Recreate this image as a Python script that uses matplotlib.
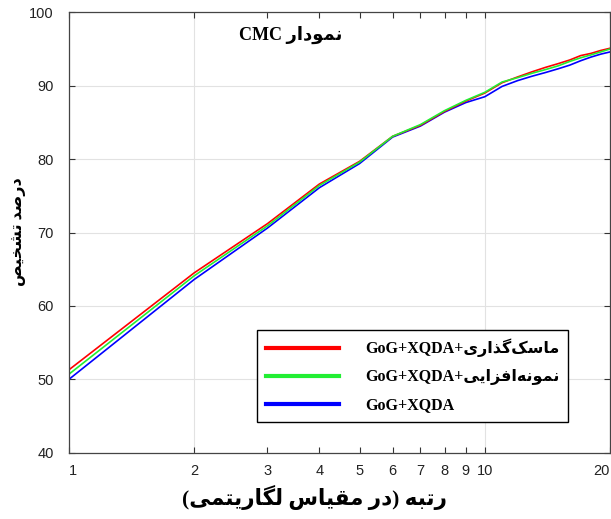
import matplotlib
matplotlib.use('Agg')
import matplotlib.pyplot as plt
from matplotlib.lines import Line2D

# CMC curves (rank 1..20, recognition %)
ranks = list(range(1, 21))
masking = [51.3, 64.5, 71.2, 76.6, 79.7, 83.1, 84.6, 86.5, 87.9, 89.0,
           90.4, 91.2, 91.9, 92.5, 93.0, 93.5, 94.1, 94.4, 94.8, 95.1]
augment = [50.7, 64.1, 70.9, 76.4, 79.6, 83.1, 84.7, 86.6, 88.0, 89.1,
           90.5, 91.1, 91.7, 92.2, 92.7, 93.3, 93.8, 94.2, 94.6, 95.0]
baseline = [50.0, 63.6, 70.6, 76.1, 79.4, 83.0, 84.5, 86.4, 87.7, 88.5,
            89.9, 90.7, 91.3, 91.8, 92.3, 92.8, 93.4, 93.9, 94.3, 94.6]

xticks_major = [1, 2, 10, 20]
xticks_minor = [3, 4, 5, 6, 7, 8, 9]
yticks = [40, 50, 60, 70, 80, 90, 100]

# matplotlib does no arabic shaping / bidi, so do it by hand
# letter: (isolated, final, initial, medial); None = joins only to the right
FORMS = {
    'ا': ('\uFE8D', '\uFE8E', None, None),
    'ب': ('\uFE8F', '\uFE90', '\uFE91', '\uFE92'),
    'ت': ('\uFE95', '\uFE96', '\uFE97', '\uFE98'),
    'خ': ('\uFEA5', '\uFEA6', '\uFEA7', '\uFEA8'),
    'د': ('\uFEA9', '\uFEAA', None, None),
    'ذ': ('\uFEAB', '\uFEAC', None, None),
    'ر': ('\uFEAD', '\uFEAE', None, None),
    'ز': ('\uFEAF', '\uFEB0', None, None),
    'س': ('\uFEB1', '\uFEB2', '\uFEB3', '\uFEB4'),
    'ش': ('\uFEB5', '\uFEB6', '\uFEB7', '\uFEB8'),
    'ص': ('\uFEB9', '\uFEBA', '\uFEBB', '\uFEBC'),
    'ف': ('\uFED1', '\uFED2', '\uFED3', '\uFED4'),
    'ق': ('\uFED5', '\uFED6', '\uFED7', '\uFED8'),
    'ل': ('\uFEDD', '\uFEDE', '\uFEDF', '\uFEE0'),
    'م': ('\uFEE1', '\uFEE2', '\uFEE3', '\uFEE4'),
    'ن': ('\uFEE5', '\uFEE6', '\uFEE7', '\uFEE8'),
    'ه': ('\uFEE9', '\uFEEA', '\uFEEB', '\uFEEC'),
    'و': ('\uFEED', '\uFEEE', None, None),
    'ک': ('\uFB8E', '\uFB8F', '\uFB90', '\uFB91'),
    'گ': ('\uFB92', '\uFB93', '\uFB94', '\uFB95'),
    'ی': ('\uFBFC', '\uFBFD', '\uFBFE', '\uFBFF'),
}


def fa(text):
    out = []
    for i, ch in enumerate(text):
        if ch not in FORMS:
            if ch != '\u200c':
                out.append(ch)
            continue
        prev = text[i - 1] if i > 0 else ''
        nxt = text[i + 1] if i + 1 < len(text) else ''
        jp = prev in FORMS and FORMS[prev][2] is not None
        jn = FORMS[ch][2] is not None and nxt in FORMS
        iso, fin, ini, med = FORMS[ch]
        if jp and jn:
            out.append(med)
        elif jp:
            out.append(fin)
        elif jn:
            out.append(ini)
        else:
            out.append(iso)
    vis = ''.join(out)[::-1]
    return vis.translate(str.maketrans('()', ')('))


title = 'CMC ' + fa('نمودار')
labels = ['GoG+XQDA+' + fa('ماسک\u200cگذاری'),
          'GoG+XQDA+' + fa('نمونه\u200cافزایی'),
          'GoG+XQDA']
xlabel = fa('رتبه (در مقیاس لگاریتمی)')
ylabel = fa('درصد تشخیص')

serif = ['Liberation Serif', 'DejaVu Sans']
plt.rcParams['font.family'] = ['Liberation Sans', 'DejaVu Sans']

fig = plt.figure(figsize=(6.11, 5.19), dpi=100)
ax = fig.add_axes([69 / 611, 1 - 452.7 / 519, 541 / 611, 440.4 / 519])

ax.plot(ranks, baseline, color='#0000ff', lw=1.2)
ax.plot(ranks, masking, color='#ff0000', lw=1.2)
ax.plot(ranks, augment, color='#22ee33', lw=1.2)

ax.set_xscale('log')
ax.set_xlim(1, 20)
ax.set_ylim(40, 100)
ax.set_xticks(xticks_major)
ax.set_xticklabels([str(t) for t in xticks_major])
ax.set_xticks(xticks_minor, minor=True)
ax.set_xticklabels([str(t) for t in xticks_minor], minor=True)
ax.set_yticks(yticks)
ax.grid(True, which='major', color='#e2e2e2', lw=0.8)
ax.set_axisbelow(True)

ax.tick_params(which='both', direction='in', length=4, width=0.8,
               top=True, right=True, colors='#333333', labelsize=10.5,
               labelcolor='#222222')
ax.tick_params(axis='y', pad=11)
ax.tick_params(axis='x', which='both', pad=8)
# keep the end labels inside the figure, like the reference
xt = ax.get_xticklabels()
xt[0].set_ha('left')
xt[-1].set_ha('right')
for s in ax.spines.values():
    s.set_color('#444444')
    s.set_linewidth(0.9)

ax.text(0.41, 0.948, title, transform=ax.transAxes, ha='center', va='center',
        fontsize=13, fontweight='bold', family=serif)

handles = [Line2D([], [], color='#ff0000', lw=3),
           Line2D([], [], color='#22ee33', lw=3),
           Line2D([], [], color='#0000ff', lw=3)]
leg = ax.legend(handles, labels, loc='lower left',
                bbox_to_anchor=(0.3475, 0.0697), borderaxespad=0,
                fancybox=False, edgecolor='black', framealpha=1,
                handlelength=4.6, handletextpad=1.6, labelspacing=0.75,
                borderpad=0.55, prop={'family': serif, 'weight': 'bold', 'size': 11.5})
leg.get_frame().set_linewidth(1.0)

fig.text(315 / 611, 1 - 497 / 519, xlabel, ha='center', va='center',
         fontsize=15.5, fontweight='bold', family=serif)
fig.text(18 / 611, 1 - 232 / 519, ylabel, ha='center', va='center',
         rotation=90, fontsize=11.5, fontweight='bold', family=serif)

fig.savefig('out.png', dpi=100)
